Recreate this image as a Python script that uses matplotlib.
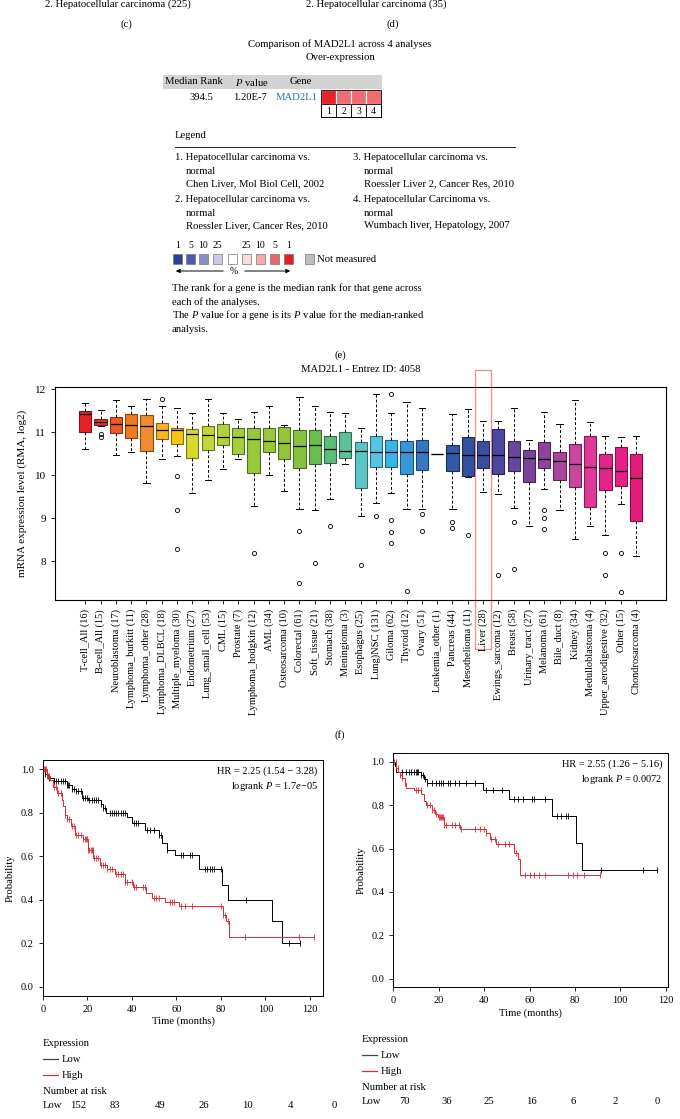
import numpy as np
import matplotlib
matplotlib.use("Agg")
import matplotlib.pyplot as plt
from matplotlib.patches import Rectangle

plt.rcParams['font.family'] = ['Liberation Serif', 'DejaVu Serif']
plt.rcParams['mathtext.fontset'] = 'custom'
plt.rcParams['mathtext.rm'] = 'Liberation Serif'
plt.rcParams['mathtext.it'] = 'Liberation Serif:italic'

W, H = 680, 1119

# ---------------- panel (e): oncomine comparison ----------------
median_rank = "394.5"
p_value = "1.20E-7"
gene = "MAD2L1"
analysis_ids = [1, 2, 3, 4]
analysis_colors = ['#e8242b', '#ef6d72', '#ef6d72', '#ef6d72']
legend_col1 = [["1. Hepatocellular carcinoma vs.", "normal", "Chen Liver, Mol Biol Cell, 2002"],
               ["2. Hepatocellular carcinoma vs.", "normal", "Roessler Liver, Cancer Res, 2010"]]
legend_col2 = [["3. Hepatocellular carcinoma vs.", "normal", "Roessler Liver 2, Cancer Res, 2010"],
               ["4. Hepatocellular Carcinoma vs.", "normal", "Wumbach liver, Hepatology, 2007"]]
scale_labels = ['1', '5', '10', '25', '', '25', '10', '5', '1']
scale_colors = ['#2b3f97', '#4d5aa8', '#8b90c3', '#c9cce4', '#ffffff',
                '#f7dcdc', '#f3aaad', '#ec656a', '#e41e26']

# ---------------- panel (f): expression across cancers ----------------
cancer_types = ['T-cell_All', 'B-cell_All', 'Neuroblastoma', 'Lymphoma_burkitt', 'Lymphoma_other',
                'Lymphoma_DLBCL', 'Multiple_myeloma', 'Endometrium', 'Lung_small_cell', 'CML',
                'Prostate', 'Lymphoma_hodgkin', 'AML', 'Osteosarcoma', 'Colorectal', 'Soft_tissue',
                'Stomach', 'Meningioma', 'Esophagus', 'Lung)NSC', 'Giloma', 'Thyroid', 'Ovary',
                'Leukemia_other', 'Pancreas', 'Mesothelioma', 'Liver', 'Ewings_sarcoma', 'Breast',
                'Urinary_tract', 'Melanoma', 'Bile_duct', 'Kidney', 'Medulloblastoma',
                'Upper_aerodigestive', 'Other', 'Chondrosarcoma']
counts = [16, 15, 17, 11, 28, 18, 30, 27, 53, 15, 7, 12, 34, 10, 61, 21, 38, 3, 25, 131, 62, 12,
          51, 1, 44, 11, 28, 12, 58, 27, 61, 8, 34, 4, 32, 15, 4]
whislo = [10.60, 11.14, 10.47, 10.54, 9.81, 10.37, 10.45, 9.58, 9.89, 10.15, 10.37, 9.29, 10.00,
          9.64, 9.22, 9.20, 9.45, 10.26, 9.05, 9.36, 9.58, 9.22, 9.22, 10.49, 9.22, 9.95, 9.60,
          9.56, 9.24, 8.81, 9.67, 9.20, 8.53, 8.81, 8.60, 9.34, 8.13]
q1 = [11.00, 11.17, 10.98, 10.86, 10.57, 10.84, 10.73, 10.40, 10.58, 10.71, 10.50, 10.05, 10.53,
      10.38, 10.16, 10.26, 10.28, 10.40, 9.70, 10.20, 10.20, 10.02, 10.13, 10.49, 10.11, 9.99,
      10.16, 10.03, 10.10, 9.84, 10.16, 9.88, 9.72, 9.27, 9.66, 9.75, 8.93]
med = [11.43, 11.25, 11.19, 11.16, 11.15, 11.05, 11.05, 10.95, 10.93, 10.90, 10.88, 10.85, 10.80,
       10.74, 10.67, 10.70, 10.60, 10.56, 10.57, 10.55, 10.55, 10.53, 10.53, 10.49, 10.52, 10.47,
       10.47, 10.47, 10.43, 10.40, 10.37, 10.33, 10.27, 10.20, 10.18, 10.09, 9.93]
q3 = [11.50, 11.31, 11.35, 11.42, 11.40, 11.21, 11.11, 11.07, 11.14, 11.19, 11.09, 11.09, 11.09,
      11.12, 11.05, 11.06, 10.92, 11.00, 10.77, 10.92, 10.81, 10.79, 10.81, 10.49, 10.71, 10.88,
      10.79, 11.07, 10.79, 10.58, 10.77, 10.54, 10.72, 10.92, 10.49, 10.65, 10.49]
whishi = [11.67, 11.52, 11.74, 11.60, 11.77, 11.60, 11.56, 11.44, 11.78, 11.46, 11.31, 11.48, 11.61,
          11.18, 11.81, 11.61, 11.48, 11.44, 11.10, 11.88, 11.46, 11.71, 11.56, 10.49, 11.42, 11.53,
          11.26, 11.26, 11.56, 10.81, 11.47, 11.19, 11.76, 11.24, 10.92, 10.88, 10.92]
fliers = [[], [10.96, 10.90], [], [], [], [11.77], [9.99, 9.19, 8.29], [], [], [], [], [8.20], [],
          [], [8.71, 7.50], [7.95], [8.82], [], [7.91], [9.06], [11.90, 8.95, 8.67, 8.43], [7.31],
          [9.09, 8.71], [], [8.91, 8.77], [8.62], [], [7.68], [8.91, 7.82], [], [9.19, 9.01, 8.74],
          [], [], [], [8.19, 7.68], [8.19, 7.28], []]
highlight = 'Liver'
box_colors = ['#e52228', '#e2352a', '#ec5a25', '#f07a23', '#f08b2e', '#f9b51c', '#f8c512', '#d6d82b',
              '#c2d838', '#b0d23c', '#a4ce3b', '#98c83b', '#9ac93e', '#93c53c', '#89c33d', '#6abe50',
              '#5bbd78', '#5dc29b', '#5cc6c4', '#55c5e3', '#38b5e8', '#3a96d6', '#3677c2', '#333333',
              '#3358a7', '#33509f', '#384ea1', '#4c479e', '#65479e', '#7a449c', '#8c449c', '#ab449b',
              '#c8469b', '#e03896', '#e6228b', '#e62086', '#e41c7c']

# ---------------- KM curves ----------------
# left
km1_low_t = [0, 1, 2.5, 5, 11, 13, 15, 17.5, 20.5, 26, 27, 28.4, 37.7, 40, 46, 52, 53.4, 55.7,
             59.4, 70.2, 80.7, 83.3, 102.8, 107.3]
km1_low_s = [1.0, 0.98, 0.96, 0.945, 0.93, 0.91, 0.90, 0.87, 0.86, 0.84, 0.82, 0.80, 0.78, 0.755,
             0.72, 0.70, 0.66, 0.63, 0.606, 0.54, 0.47, 0.40, 0.30, 0.20]
km1_low_end = 115.5
km1_low_cens = [1, 2, 3, 5, 6, 7, 8, 9, 10, 11, 11.5, 12, 13, 14, 15, 16, 17, 18, 19, 20, 21, 22, 23,
                24, 25, 26, 27, 28, 30, 31, 32, 33, 34, 35, 36, 37, 41, 42, 43, 47, 48, 50, 52, 53,
                56, 62, 63, 66, 67, 73, 74, 75, 76, 77, 80, 91.5, 110.5, 115.5]
km1_high_t = [0, 1.8, 3.3, 4.8, 6.3, 8.5, 9.3, 10, 11, 12.5, 14.5, 18, 20.5, 22.7, 25.7, 28.7, 32.5,
              37, 40.7, 46.2, 49, 55, 61, 81, 82.3, 83.8]
km1_high_s = [1.0, 0.97, 0.95, 0.92, 0.89, 0.86, 0.83, 0.79, 0.77, 0.74, 0.70, 0.68, 0.63, 0.59,
              0.56, 0.54, 0.52, 0.48, 0.46, 0.43, 0.41, 0.39, 0.37, 0.33, 0.30, 0.23]
km1_high_end = 122
km1_high_cens = [0.5, 1, 1.5, 2, 2.5, 3, 5, 6, 7, 8, 10, 11, 12, 13, 14, 15, 16, 17, 18, 19, 19.5,
                 20, 20.5, 21, 21.5, 22, 22.5, 23, 24, 25, 26, 27, 28, 29, 30, 31, 33, 34, 35, 36,
                 37, 38, 40, 41, 42, 45, 46, 50, 51, 52, 57, 58, 59, 62, 64, 67, 80, 81, 82, 83, 91,
                 115, 122]
km1_hr = "HR = 2.25 (1.54 \u2212 3.28)"
km1_p = "logrank $P$ = 1.7$e$\u221205"
km1_risk_low = [152, 83, 49, 26, 10, 4, 0]

# right
km2_low_t = [0, 0.7, 1.4, 12, 13.4, 14.8, 39.5, 51.1, 69.9, 80.5, 83]
km2_low_s = [1.0, 0.98, 0.955, 0.94, 0.92, 0.905, 0.87, 0.83, 0.75, 0.625, 0.50]
km2_low_end = 116
km2_low_cens = [4, 5.5, 7, 8, 9, 10, 10.5, 11, 12, 13, 14, 15, 17, 19, 20, 21, 22, 24, 25, 27, 29,
                32, 36, 41, 44, 48, 53, 55, 57, 61, 62, 67, 72, 74, 76, 77, 91.5, 110, 116]
km2_high_t = [0, 1.4, 2.1, 2.8, 4, 5, 5.6, 9.2, 12.4, 13.4, 14.4, 17, 18.4, 19.8, 22.3, 29.4, 41,
              42.4, 45.2, 53, 54.8, 55.8]
km2_high_s = [1.0, 0.97, 0.955, 0.94, 0.925, 0.905, 0.88, 0.87, 0.85, 0.82, 0.80, 0.78, 0.76,
              0.745, 0.71, 0.69, 0.67, 0.645, 0.62, 0.58, 0.55, 0.48]
km2_high_end = 91
km2_high_cens = [0.5, 1, 2, 3, 4, 5, 10, 11, 12, 15, 16, 17, 18, 19, 20, 20.5, 21, 21.5, 22, 22.5,
                 23, 26, 27, 29, 30, 36, 38, 40, 41, 43, 45, 46, 49, 51, 54, 58, 60, 62, 64, 67, 77,
                 79, 81, 84, 91]
km2_hr = "HR = 2.55 (1.26 \u2212 5.16)"
km2_p = "logrank $P$ = 0.0072"
km2_risk_low = [70, 36, 25, 16, 6, 2, 0]

RED = '#e0282e'


def px_rect(left, top, right, bottom):
    return [left / W, 1 - bottom / H, (right - left) / W, (bottom - top) / H]


fig = plt.figure(figsize=(W / 100, H / 100), dpi=100)
ov = fig.add_axes([0, 0, 1, 1])
ov.set_xlim(0, W)
ov.set_ylim(H, 0)
ov.axis('off')

fs = 7.7
# remnants of panels (c) and (d)
ov.text(45, 4, "2. Hepatocellular carcinoma (225)", fontsize=fs, va='center')
ov.text(306, 4, "2. Hepatocellular carcinoma (35)", fontsize=fs, va='center')
ov.text(126, 24, "(c)", fontsize=fs, ha='center', va='center')
ov.text(393, 24, "(d)", fontsize=fs, ha='center', va='center')

# panel (e)
ov.text(340, 44, "Comparison of MAD2L1 across 4 analyses", fontsize=fs, ha='center', va='center')
ov.text(340, 58, "Over-expression", fontsize=fs, ha='center', va='center')
ov.add_patch(Rectangle((163, 75), 219, 14, fc='#d3d3d3', ec='none'))
ov.text(165, 82, "Median Rank", fontsize=fs, va='center')
ov.text(235, 82, r"$P$ value", fontsize=fs, va='center')
ov.text(290, 82, "Gene", fontsize=fs, va='center')
ov.text(213, 98, median_rank, fontsize=fs, va='center', ha='right')
ov.text(233, 98, p_value, fontsize=fs, va='center')
ov.text(276, 98, gene, fontsize=fs, va='center', color='#2b6cb0')
for i, (aid, c) in enumerate(zip(analysis_ids, analysis_colors)):
    x0 = 321 + 15 * i
    ov.add_patch(Rectangle((x0, 90), 15, 14, fc=c, ec='white', lw=0.8))
    ov.add_patch(Rectangle((x0, 104), 15, 13, fc='white', ec='black', lw=0.6))
    ov.text(x0 + 7.5, 111, str(aid), fontsize=fs - 0.7, ha='center', va='center')
ov.add_patch(Rectangle((321, 90), 60, 27, fc='none', ec='black', lw=0.6))

ov.text(175, 135, "Legend", fontsize=fs, va='center')
ov.plot([175, 515], [147, 147], color='black', lw=0.6)
for col_x, items in [(175, legend_col1), (353, legend_col2)]:
    for j, item in enumerate(items):
        y0 = 158 + 42 * j
        ov.text(col_x, y0, item[0], fontsize=fs, va='center')
        ov.text(col_x + 11, y0 + 13, item[1], fontsize=fs, va='center')
        ov.text(col_x + 11, y0 + 26, item[2], fontsize=fs, va='center')

sq_x = [173, 186, 199, 213, 228, 242, 256, 270, 284]
for x0, lab, c in zip(sq_x, scale_labels, scale_colors):
    ov.add_patch(Rectangle((x0, 254), 9, 10, fc=c, ec='#777777', lw=0.5))
    if lab:
        ov.text(x0 + 4.5, 245, lab, fontsize=fs - 0.7, ha='center', va='center')
ov.add_patch(Rectangle((305, 254), 9, 10, fc='#bdbdbd', ec='#777777', lw=0.5))
ov.text(317, 259, "Not measured", fontsize=fs, va='center')
ov.annotate('', xy=(173, 271), xytext=(226, 271),
            arrowprops=dict(arrowstyle='-|>', color='black', lw=0.7, mutation_scale=6))
ov.annotate('', xy=(293, 271), xytext=(242, 271),
            arrowprops=dict(arrowstyle='-|>', color='black', lw=0.7, mutation_scale=6))
ov.text(234, 272, "%", fontsize=fs - 0.7, ha='center', va='center')
ov.text(172, 288, "The rank for a gene is the median rank for that gene across", fontsize=fs, va='center')
ov.text(172, 302, "each of the analyses.", fontsize=fs, va='center')
ov.text(172, 315, r"The $P$ value for a gene is its $P$ value for the median-ranked", fontsize=fs, va='center')
ov.text(172, 329, "analysis.", fontsize=fs, va='center')
ov.text(340, 355, "(e)", fontsize=fs, ha='center', va='center')

# panel (f): boxplot
ax = fig.add_axes(px_rect(55, 387, 666, 600))
stats = []
for i in range(len(cancer_types)):
    stats.append(dict(whislo=whislo[i], q1=q1[i], med=med[i], q3=q3[i], whishi=whishi[i],
                      fliers=fliers[i], label=f"{cancer_types[i]} ({counts[i]})"))
pos = np.arange(1, len(cancer_types) + 1)
bp = ax.bxp(stats, positions=pos, widths=0.8, patch_artist=True,
            whiskerprops=dict(linestyle=(0, (3, 2)), color='black', lw=0.7),
            capprops=dict(color='black', lw=0.7),
            medianprops=dict(color='black', lw=0.9),
            flierprops=dict(marker='o', mfc='none', mec='black', ms=3, mew=0.6))
for patch, c in zip(bp['boxes'], box_colors):
    rgb = np.array(matplotlib.colors.to_rgb(c))
    patch.set_facecolor(c)
    patch.set_edgecolor(rgb * 0.55)
    patch.set_linewidth(0.8)
ax.set_xlim(-0.98, 38.96)
ax.set_ylim(7.10, 12.053)
ax.set_yticks([8, 9, 10, 11, 12])
ax.tick_params(axis='y', labelsize=8, length=3, width=0.6)
ax.tick_params(axis='x', labelsize=7.5, length=3, width=0.6, labelrotation=90)
ax.set_ylabel("mRNA expression level (RMA, log2)", fontsize=8, labelpad=6)
for s in ax.spines.values():
    s.set_linewidth(0.8)
hi = cancer_types.index(highlight) + 1
ax.add_patch(Rectangle((hi - 0.5, -0.23), 1.0, 1.31, transform=ax.get_xaxis_transform(),
                       fill=False, ec='#e89494', lw=1.0, clip_on=False))
ov.text(361, 370, "MAD2L1 - Entrez ID: 4058", fontsize=fs, ha='center', va='center')
ov.text(340, 735, "(f)", fontsize=fs, ha='center', va='center')


def km_panel(rect, xlim, ylim, curves, hr, ptxt):
    a = fig.add_axes(rect)
    for t, s, end, cens, col in curves:
        tt = list(t) + [end]
        ss = list(s) + [s[-1]]
        a.step(tt, ss, where='post', color=col, lw=0.7)
        idx = np.searchsorted(np.array(t), np.array(cens), side='right') - 1
        a.plot(cens, np.array(s)[idx], ls='none', marker='|', ms=5, mew=0.6, color=col)
    a.set_xlim(*xlim)
    a.set_ylim(*ylim)
    a.set_xticks([0, 20, 40, 60, 80, 100, 120])
    a.set_yticks([0, 0.2, 0.4, 0.6, 0.8, 1.0])
    a.set_yticklabels([f"{v:.1f}" for v in [0, 0.2, 0.4, 0.6, 0.8, 1.0]])
    a.tick_params(labelsize=7.5, length=3, width=0.6)
    a.set_xlabel("Time (months)", fontsize=7.7, labelpad=2)
    a.set_ylabel("Probability", fontsize=7.7)
    for sp in a.spines.values():
        sp.set_linewidth(0.7)
    a.text(0.98, 0.975, hr, transform=a.transAxes, ha='right', va='top', fontsize=7.5)
    a.text(0.98, 0.915, ptxt, transform=a.transAxes, ha='right', va='top', fontsize=7.5)
    return a


km_panel(px_rect(42.7, 760, 323.3, 996), (0, 126), (-0.043, 1.043),
         [(km1_low_t, km1_low_s, km1_low_end, km1_low_cens, 'black'),
          (km1_high_t, km1_high_s, km1_high_end, km1_high_cens, RED)], km1_hr, km1_p)
km_panel(px_rect(393.3, 753.3, 668, 987.3), (0, 121), (-0.04, 1.04),
         [(km2_low_t, km2_low_s, km2_low_end, km2_low_cens, 'black'),
          (km2_high_t, km2_high_s, km2_high_end, km2_high_cens, RED)], km2_hr, km2_p)


def km_legend(x0, y0, risk, risk_x):
    ov.text(x0, y0, "Expression", fontsize=fs, va='center')
    ov.plot([x0, x0 + 15], [y0 + 15, y0 + 15], color='#444444', lw=0.9)
    ov.text(x0 + 19, y0 + 15, "Low", fontsize=fs, va='center')
    ov.plot([x0, x0 + 15], [y0 + 31, y0 + 31], color=RED, lw=0.9)
    ov.text(x0 + 19, y0 + 31, "High", fontsize=fs, va='center')
    ov.text(x0, y0 + 47, "Number at risk", fontsize=fs, va='center')
    ov.text(x0, y0 + 62, "Low", fontsize=fs, va='center')
    for xx, n in zip(risk_x, risk):
        ov.text(xx, y0 + 62, str(n), fontsize=fs, va='center', ha='center')


km_legend(43, 1044, km1_risk_low, [78, 115, 160, 204, 247, 290, 334])
km_legend(362, 1040, km2_risk_low, [405, 447, 489, 531, 573, 615, 657])

fig.savefig("out.png", dpi=100)
